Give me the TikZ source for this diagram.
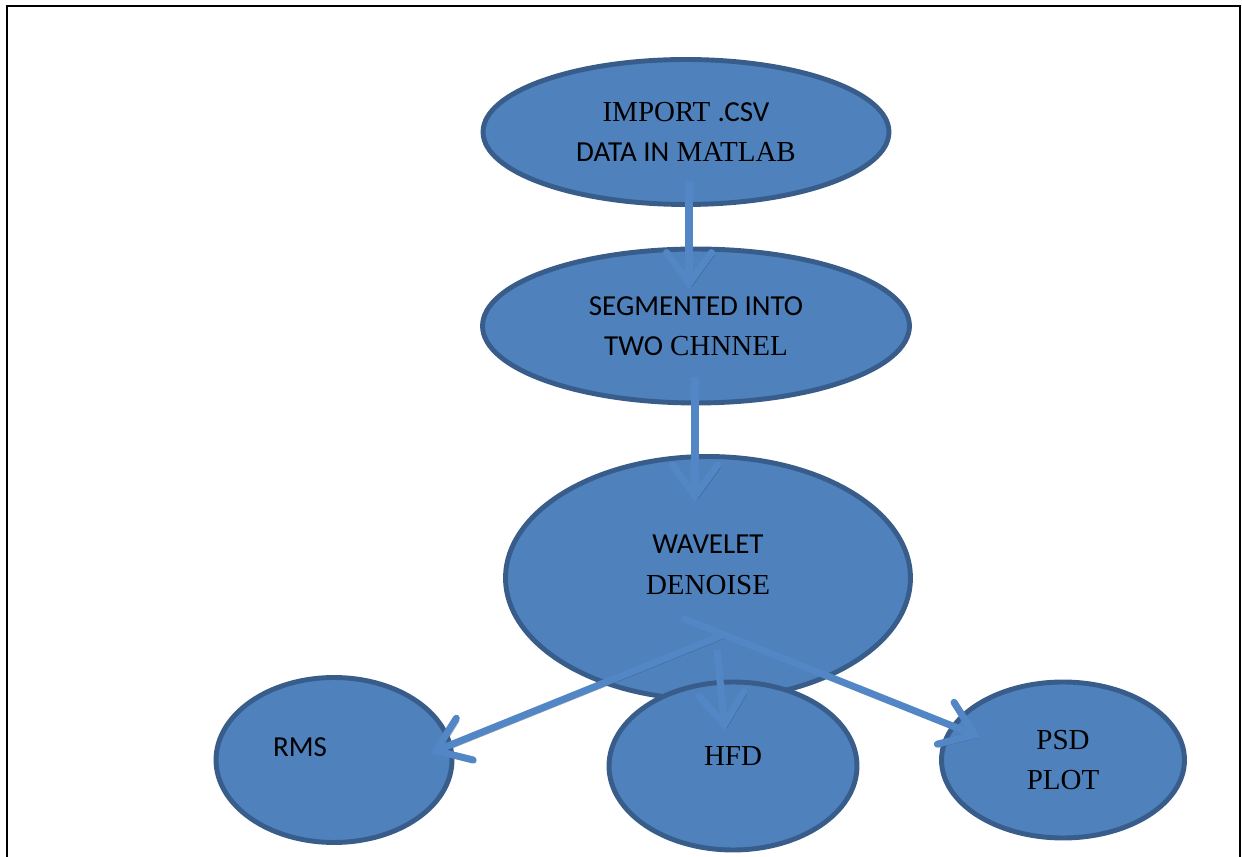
\documentclass[tikz,border=0pt]{standalone}
\usepackage{fontspec}
\setmainfont{Liberation Serif}
\newfontfamily\calib{Carlito}
\usetikzlibrary{shapes.geometric,arrows.meta}
\definecolor{blobfill}{HTML}{4F81BD}
\definecolor{blobline}{HTML}{385D8A}
\definecolor{flowline}{HTML}{5286C4}

\begin{document}
\begin{tikzpicture}[x=0.02cm,y=-0.02cm,
    blob/.style={ellipse,draw=blobline,fill=blobfill,line width=2.8pt,inner sep=0pt,
      align=center,font=\fontsize{16.5}{23}\selectfont},
    flow/.style={draw=flowline,line width=4pt,
      -{Straight Barb[length=0.62cm,width=0.9cm,line cap=round]},
      preaction={draw=blobline!80!black,opacity=0.45,
        transform canvas={shift={(1.6pt,-1.6pt)}}}}]
  \useasboundingbox (0,0) rectangle (1242,857);
  \draw[line width=1.4pt] (7,857) -- (7,6) -- (1240,6) -- (1240,857);

  \node [blob,minimum width=8.12cm,minimum height=2.9cm] (import) at (686,132)
    {IMPORT {\calib.CSV}\\{\calib DATA IN} MATLAB};
  \node [blob,minimum width=8.54cm,minimum height=3.08cm] (segment) at (696,326)
    {{\calib SEGMENTED INTO}\\{\calib TWO} CHNNEL};
  \node [blob,minimum width=8.1cm,minimum height=4.86cm,
    label={[shift={(0,-13)},align=center,font=\fontsize{16.5}{23}\selectfont]center:{\calib WAVELET}\\DENOISE}]
    (wavelet) at (708,578) {};
  \node [blob,minimum width=4.72cm,minimum height=3.3cm,
    label={[shift={(-34,-13)},font=\fontsize{16.5}{23}\selectfont\calib]center:RMS}]
    (rms) at (334,760) {};
  \node [blob,minimum width=4.96cm,minimum height=3.36cm] (hfd) at (733,766) {\raisebox{1.5ex}{HFD}};
  \node [blob,minimum width=4.86cm,minimum height=3.12cm] (psd) at (1063,760) {PSD\\PLOT};

  % fork below the wavelet step
  \coordinate (fork) at ([shift={(15,-67)}]wavelet.south);
  \coordinate (split) at ([shift={(-26,-84)}]wavelet.south);

  \draw[flow] ([shift={(3,-26)}]import.south) -- ([shift={(-7,43)}]segment.north);
  \draw[flow] ([shift={(-1,-28)}]segment.south) -- ([shift={(-13,48)}]wavelet.north);
  \draw[flow] ([shift={(9,-52)}]wavelet.south) -- ([shift={(-8,51)}]hfd.north);
  \draw[flow] (fork) -- ([shift={(-24,-7)}]rms.east);
  \draw[flow] (split) -- ([shift={(41,-23)}]psd.west);
\end{tikzpicture}
\end{document}
